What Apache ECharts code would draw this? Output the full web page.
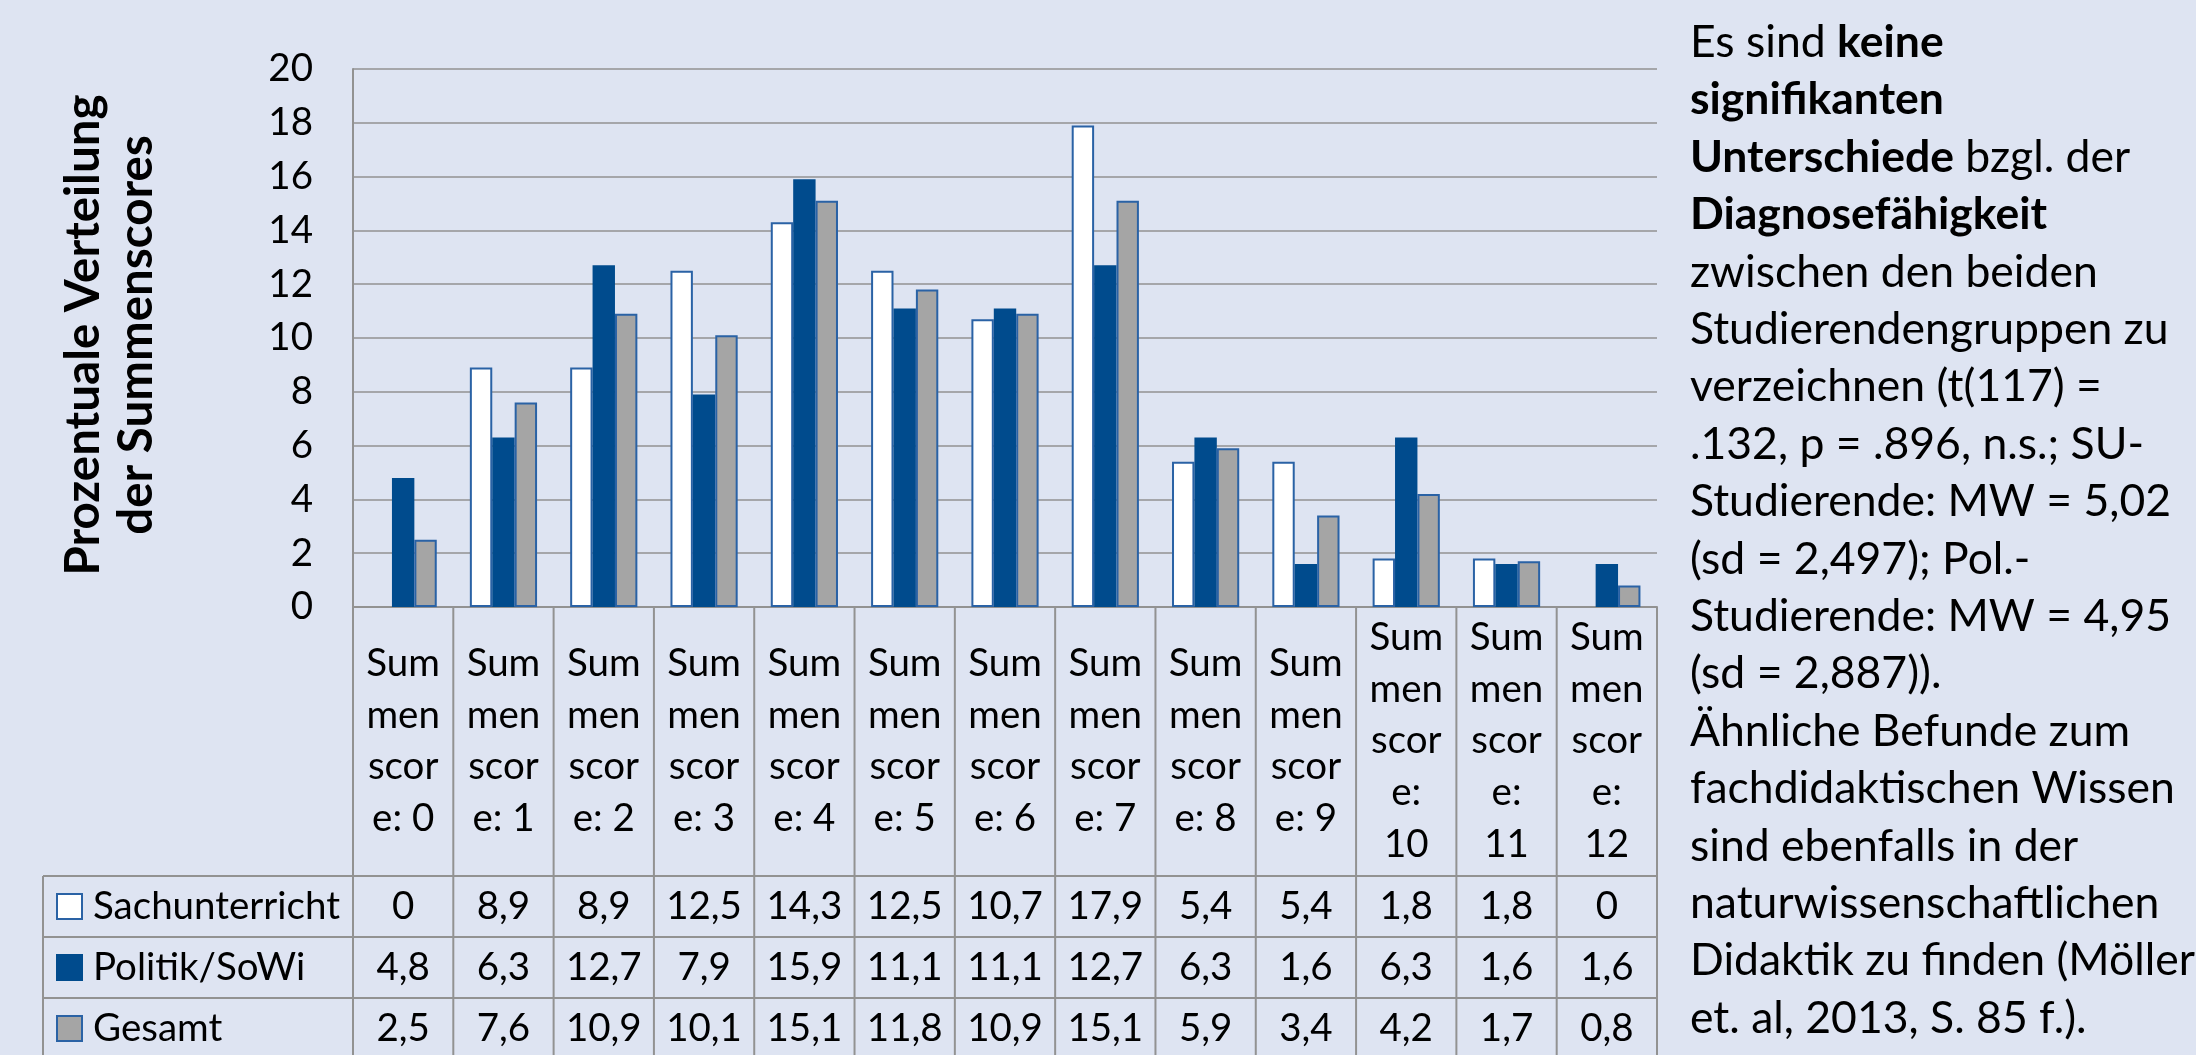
<!DOCTYPE html>
<html>
<head>
<meta charset="utf-8">
<script src="https://cdn.jsdelivr.net/npm/echarts@6/dist/echarts.min.js"></script>
<style>
  html, body { margin: 0; padding: 0; background: #dee4f2; }
  #chart { width: 2196px; height: 1055px; }
</style>
</head>
<body>
<div id="chart"></div>
<script>
// ---- data ----
const categories = [
  'Summenscore: 0', 'Summenscore: 1', 'Summenscore: 2', 'Summenscore: 3',
  'Summenscore: 4', 'Summenscore: 5', 'Summenscore: 6', 'Summenscore: 7',
  'Summenscore: 8', 'Summenscore: 9', 'Summenscore: 10', 'Summenscore: 11',
  'Summenscore: 12'
];
const seriesNames = ['Sachunterricht', 'Politik/SoWi', 'Gesamt'];
const sachunterricht = [0, 8.9, 8.9, 12.5, 14.3, 12.5, 10.7, 17.9, 5.4, 5.4, 1.8, 1.8, 0];
const politikSoWi    = [4.8, 6.3, 12.7, 7.9, 15.9, 11.1, 11.1, 12.7, 6.3, 1.6, 6.3, 1.6, 1.6];
const gesamt         = [2.5, 7.6, 10.9, 10.1, 15.1, 11.8, 10.9, 15.1, 5.9, 3.4, 4.2, 1.7, 0.8];
const yMin = 0, yMax = 20, yStep = 2;
const yAxisTitle = ['Prozentuale Verteilung', 'der Summenscores'];

// note beside the chart: each line is a list of [text, bold]
const noteLines = [
  [['Es sind ', 0], ['keine', 1]],
  [['signifikanten', 1]],
  [['Unterschiede', 1], [' bzgl. der', 0]],
  [['Diagnosefähigkeit', 1]],
  [['zwischen den beiden', 0]],
  [['Studierendengruppen zu', 0]],
  [['verzeichnen (t(117) =', 0]],
  [['.132, p = .896, n.s.; SU-', 0]],
  [['Studierende: MW = 5,02', 0]],
  [['(sd = 2,497); Pol.-', 0]],
  [['Studierende: MW = 4,95', 0]],
  [['(sd = 2,887)).', 0]],
  [['Ähnliche Befunde zum', 0]],
  [['fachdidaktischen Wissen', 0]],
  [['sind ebenfalls in der', 0]],
  [['naturwissenschaftlichen', 0]],
  [['Didaktik zu finden (Möller', 0]],
  [['et. al, 2013, S. 85 f.).', 0]]
];

// ---- styling ----
const FONT = 'Lato, "Open Sans", sans-serif';
const LINE = '#929292';
const EDGE = '#2a62a5';
const TXT = 38.5;
const seriesStyles = [
  { color: '#ffffff', borderColor: EDGE, borderWidth: 2 },
  { color: '#004b8d', borderColor: '#004b8d', borderWidth: 0 },
  { color: '#a5a5a5', borderColor: EDGE, borderWidth: 2 }
];
const seriesData = [sachunterricht, politikSoWi, gesamt];

// narrow cells wrap "Summenscore: n" into short pieces
function wrapLabel(s) {
  const parts = s.split(' ');
  const w = parts[0], n = parts[1];
  const pieces = [w.slice(0, 3), w.slice(3, 6), w.slice(6, 10)];
  const tail = w.slice(10);
  if (n.length === 1) pieces.push(tail + ' ' + n);
  else pieces.push(tail, n);
  return pieces.join('\n');
}
function fmt(v) { return String(v).replace('.', ','); }

const chart = echarts.init(document.getElementById('chart'));

chart.setOption({
  backgroundColor: '#dee4f2',
  animation: false,
  grid: { left: 353, right: 539, top: 69, bottom: 448 },
  xAxis: {
    type: 'category',
    data: categories,
    axisLine: { lineStyle: { color: LINE, width: 2 } },
    axisTick: { show: false },
    splitLine: { show: false },
    axisLabel: {
      interval: 0,
      formatter: wrapLabel,
      margin: 134,
      verticalAlign: 'middle',
      lineHeight: 51.7,
      fontSize: TXT,
      fontFamily: FONT,
      color: '#000'
    }
  },
  yAxis: {
    type: 'value',
    min: yMin, max: yMax, interval: yStep,
    axisLine: { show: true, lineStyle: { color: LINE, width: 2 } },
    axisTick: { show: false },
    splitLine: { lineStyle: { color: LINE, width: 1.5 } },
    axisLabel: { margin: 40, fontSize: TXT, fontFamily: FONT, color: '#000' }
  },
  series: seriesData.map((d, i) => ({
    type: 'bar',
    name: seriesNames[i],
    barWidth: 22.4,
    barGap: '0%',
    silent: true,
    itemStyle: seriesStyles[i],
    data: d.map(v => v === 0 ? { value: 0, itemStyle: { borderWidth: 0 } } : v)
  }))
});

// ---- data table under the plot ----
const TABLE_TOP = 876, ROW_H = 61, TABLE_LEFT = 43;
const KEY_X = 57, KEY_SIZE = 25, LABEL_X = 93;

const cx0 = chart.convertToPixel({ xAxisIndex: 0 }, 0);
const band = chart.convertToPixel({ xAxisIndex: 0 }, 1) - cx0;
const axisY = chart.convertToPixel({ yAxisIndex: 0 }, 0);
const leftEdge = cx0 - band / 2;
const rightEdge = leftEdge + band * categories.length;
const tableBottom = TABLE_TOP + ROW_H * seriesNames.length;

const g = [];
function hline(y, xa, xb) {
  g.push({ type: 'line', silent: true, shape: { x1: xa, y1: y, x2: xb, y2: y },
           style: { stroke: LINE, lineWidth: 2 } });
}
function vline(x, ya, yb) {
  g.push({ type: 'line', silent: true, shape: { x1: x, y1: ya, x2: x, y2: yb },
           style: { stroke: LINE, lineWidth: 2 } });
}
for (let r = 0; r <= seriesNames.length; r++) hline(TABLE_TOP + r * ROW_H, TABLE_LEFT, rightEdge);
vline(TABLE_LEFT, TABLE_TOP, tableBottom);
for (let i = 0; i <= categories.length; i++) vline(leftEdge + i * band, axisY, tableBottom);

seriesNames.forEach((name, r) => {
  const cy = TABLE_TOP + r * ROW_H + ROW_H / 2;
  const st = seriesStyles[r];
  g.push({ type: 'rect', silent: true,
           shape: { x: KEY_X, y: cy - KEY_SIZE / 2, width: KEY_SIZE, height: KEY_SIZE },
           style: { fill: st.color, stroke: st.borderWidth ? st.borderColor : st.color, lineWidth: 2 } });
  g.push({ type: 'text', silent: true, x: LABEL_X, y: cy,
           style: { text: name, fill: '#000', fontSize: TXT, fontFamily: FONT,
                    align: 'left', verticalAlign: 'middle' } });
  seriesData[r].forEach((v, i) => {
    g.push({ type: 'text', silent: true, x: cx0 + i * band, y: cy,
             style: { text: fmt(v), fill: '#000', fontSize: TXT, fontFamily: FONT,
                      align: 'center', verticalAlign: 'middle' } });
  });
});

// rotated axis title
g.push({ type: 'text', silent: true, x: 110, y: 335, rotation: Math.PI / 2,
         style: { text: yAxisTitle.join('\n'), fill: '#000', fontSize: 47.5, fontWeight: 'bold',
                  fontFamily: FONT, lineHeight: 53, align: 'center', verticalAlign: 'middle' } });

// note text on the right
const noteText = noteLines.map(line =>
  line.map(([t, b]) => '{' + (b ? 'b' : 'n') + '|' + t + '}').join('')).join('\n');
g.push({ type: 'text', silent: true, x: 1690, y: 14,
         style: { text: noteText, align: 'left', verticalAlign: 'top',
                  rich: {
                    n: { fontSize: 44.5, fontFamily: FONT, lineHeight: 57.4, fill: '#000' },
                    b: { fontSize: 44.5, fontFamily: FONT, lineHeight: 57.4, fill: '#000', fontWeight: 'bold' }
                  } } });

chart.setOption({ graphic: { elements: g } });
</script>
</body>
</html>
